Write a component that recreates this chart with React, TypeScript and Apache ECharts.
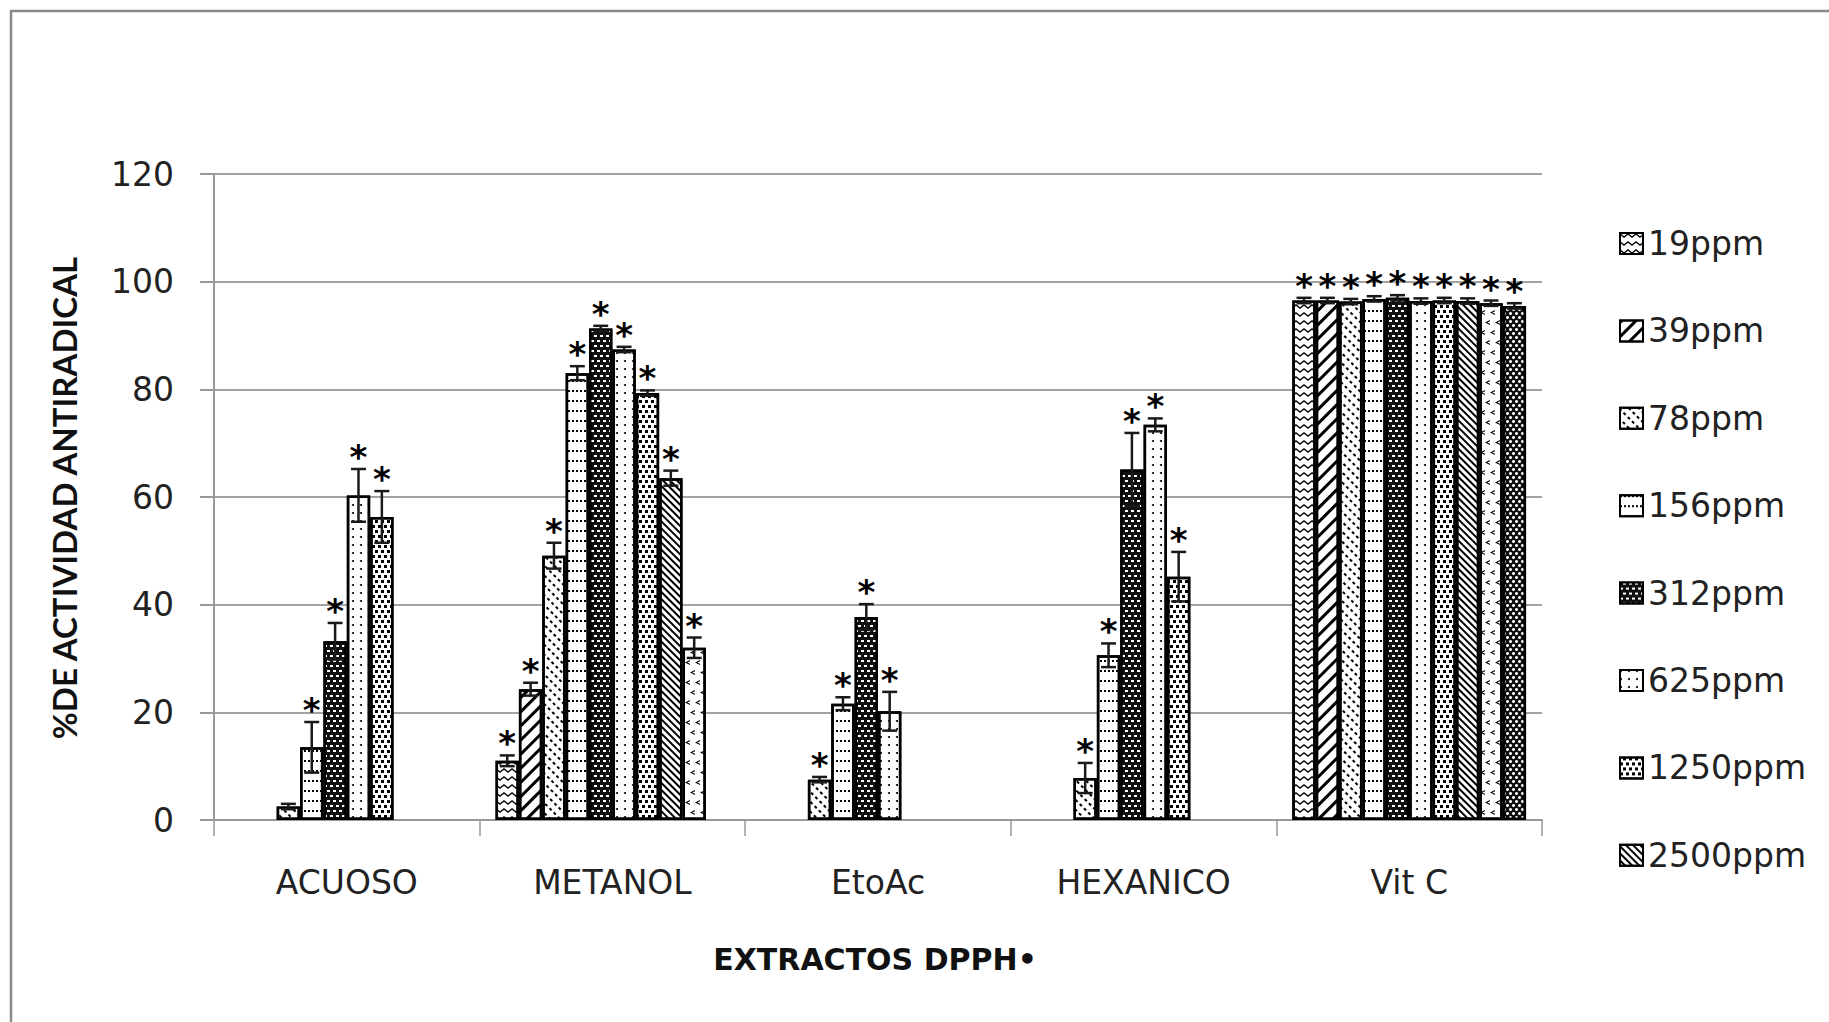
import React, { useEffect, useRef } from 'react';
import * as echarts from 'echarts';

const categories = ['ACUOSO', 'METANOL', 'EtoAc', 'HEXANICO', 'Vit C'];
const seriesNames = ['19ppm', '39ppm', '78ppm', '156ppm', '312ppm', '625ppm', '1250ppm', '2500ppm', '5000ppm', '10000ppm'];
const legendNames = ['19ppm', '39ppm', '78ppm', '156ppm', '312ppm', '625ppm', '1250ppm', '2500ppm'];
const yTicks = [0, 20, 40, 60, 80, 100, 120];

// mean values per category [ACUOSO, METANOL, EtoAc, HEXANICO, Vit C]
const v19 = [null, 11, null, null, 96.5];
const v39 = [null, 24.3, null, null, 96.5];
const v78 = [2.5, 49.1, 7.5, 7.8, 96.3];
const v156 = [13.5, 83, 21.6, 30.6, 96.8];
const v312 = [33.2, 91.3, 37.7, 65.1, 97];
const v625 = [60.3, 87.4, 20.2, 73.4, 96.4];
const v1250 = [56.3, 79.3, null, 45.2, 96.5];
const v2500 = [null, 63.5, null, null, 96.4];
const v5000 = [null, 32, null, null, 96];
const v10000 = [null, null, null, null, 95.5];

// error (SD) values
const e19 = [null, 1, null, null, 0.5];
const e39 = [null, 1.2, null, null, 0.5];
const e78 = [0.5, 2.4, 0.5, 2.8, 0.5];
const e156 = [4.7, 1.3, 1.2, 2.2, 0.5];
const e312 = [3.4, 0.5, 2.4, 6.8, 0.5];
const e625 = [4.9, 0.5, 3.6, 1.2, 0.5];
const e1250 = [4.8, 0.5, null, 4.6, 0.5];
const e2500 = [null, 1.4, null, null, 0.5];
const e5000 = [null, 1.9, null, null, 0.5];
const e10000 = [null, null, null, null, 0.5];

// significance marks (*)
const s19 = [0, 1, 0, 0, 1];
const s39 = [0, 1, 0, 0, 1];
const s78 = [0, 1, 1, 1, 1];
const s156 = [1, 1, 1, 1, 1];
const s312 = [1, 1, 1, 1, 1];
const s625 = [1, 1, 1, 1, 1];
const s1250 = [1, 1, 0, 1, 1];
const s2500 = [0, 1, 0, 0, 1];
const s5000 = [0, 1, 0, 0, 1];
const s10000 = [0, 0, 0, 0, 1];

const values = [v19, v39, v78, v156, v312, v625, v1250, v2500, v5000, v10000];
const errors = [e19, e39, e78, e156, e312, e625, e1250, e2500, e5000, e10000];
const sigs = [s19, s39, s78, s156, s312, s625, s1250, s2500, s5000, s10000];

const N = seriesNames.length;
const GAP = 0.12;
const FONT = '"DejaVu Sans", sans-serif';

const fills = ['#fff', '#fff', '#fff', '#fff', '#111', '#fff', '#fff', '#fff', '#fff', '#111'];
const decals: any[] = [
  { symbol: 'path://M0,0 L4,3 L8,0 L8,1.6 L4,4.6 L0,1.6 Z', symbolKeepAspect: false, color: '#000', dashArrayX: [8, 0], dashArrayY: [4.6, 2.6] },
  { symbol: 'rect', color: '#000', dashArrayX: [1, 0], dashArrayY: [3, 7], rotation: -Math.PI / 4 },
  { symbol: 'rect', color: '#000', dashArrayX: [3, 3], dashArrayY: [1.3, 5], rotation: Math.PI / 4 },
  { symbol: 'rect', color: '#000', dashArrayX: [1.5, 1.5], dashArrayY: [1.3, 8] },
  { symbol: 'rect', color: '#fff', dashArrayX: [[3, 3], [0, 3, 3, 0]], dashArrayY: [1.5, 2.5] },
  { symbol: 'circle', color: '#000', dashArrayX: [1.8, 6], dashArrayY: [1.8, 6] },
  { symbol: 'rect', color: '#000', dashArrayX: [[3, 3], [0, 3, 3, 0]], dashArrayY: [3, 2] },
  { symbol: 'rect', color: '#000', dashArrayX: [1, 0], dashArrayY: [1.4, 2.4], rotation: Math.PI / 4 },
  { symbol: 'path://M4,0 L0,2.5 L4,5 L4,3.8 L1.8,2.5 L4,1.2 Z', symbolKeepAspect: false, color: '#000', dashArrayX: [[5, 5], [0, 5, 5, 0]], dashArrayY: [5, 5] },
  { symbol: 'circle', color: '#fff', dashArrayX: [[3, 3], [0, 3, 3, 0]], dashArrayY: [3, 1] },
];

export default function App() {
  const ref = useRef<HTMLDivElement>(null);
  useEffect(() => {
    if (!ref.current) return;
    const chart = echarts.init(ref.current, null, { renderer: 'svg' });

    const errData: any[] = [];
    values.forEach((vals, s) =>
      vals.forEach((v, c) => {
        if (v != null) errData.push([c, s, v, errors[s][c] ?? 0, sigs[s][c]]);
      })
    );

    const barSeries = seriesNames.map((name, i) => ({
      type: 'bar',
      name,
      data: values[i],
      barGap: '0%',
      barCategoryGap: (GAP * 100) + '%',
      itemStyle: { color: fills[i], borderColor: '#000', borderWidth: 2.5, decal: decals[i] },
      emphasis: { disabled: true },
    }));

    const errSeries = {
      type: 'custom',
      name: 'err',
      data: errData,
      encode: { x: 0, y: 2 },
      z: 10,
      silent: true,
      renderItem: (params: any, api: any) => {
        const c = api.value(0);
        const s = api.value(1);
        const v = api.value(2);
        const e = api.value(3);
        const sig = api.value(4);
        const band = api.size([1, 0])[0];
        const bw = (band * (1 - GAP)) / N;
        const cx = api.coord([c, 0])[0] + (s - (N - 1) / 2) * bw;
        const yTop = api.coord([c, v + e])[1];
        const yBot = api.coord([c, v - e])[1];
        const cap = bw * 0.32;
        const st = { stroke: '#1a1a1a', lineWidth: 2.5 };
        const children: any[] = [
          { type: 'line', shape: { x1: cx, y1: yTop, x2: cx, y2: yBot }, style: st },
          { type: 'line', shape: { x1: cx - cap, y1: yTop, x2: cx + cap, y2: yTop }, style: st },
          { type: 'line', shape: { x1: cx - cap, y1: yBot, x2: cx + cap, y2: yBot }, style: st },
        ];
        if (sig) {
          children.push({
            type: 'text',
            x: cx,
            y: yTop - 12,
            style: { text: '*', font: 'bold 34px "DejaVu Sans"', fill: '#000', align: 'center', verticalAlign: 'middle' },
          });
        }
        return { type: 'group', children };
      },
    };

    chart.setOption({
      animation: false,
      backgroundColor: '#fff',
      textStyle: { fontFamily: FONT },
      grid: { left: 214, top: 174, width: 1328, height: 646, containLabel: false },
      legend: {
        data: legendNames,
        orient: 'vertical',
        left: 1614,
        top: 222,
        icon: 'rect',
        itemWidth: 23,
        itemHeight: 21,
        itemGap: 54.4,
        selectedMode: false,
        textStyle: { fontFamily: FONT, fontSize: 33, color: '#222' },
      },
      xAxis: {
        type: 'category',
        data: categories,
        axisLine: { lineStyle: { color: '#999', width: 2 } },
        axisTick: { show: true, length: 16, lineStyle: { color: '#999', width: 1.5 } },
        axisLabel: { fontFamily: FONT, fontSize: 33, color: '#222', margin: 46 },
      },
      yAxis: {
        type: 'value',
        min: yTicks[0],
        max: yTicks[yTicks.length - 1],
        interval: 20,
        axisLine: { show: true, lineStyle: { color: '#999', width: 2 } },
        axisTick: { show: true, length: 14, lineStyle: { color: '#999', width: 2 } },
        splitLine: { lineStyle: { color: '#a3a3a3', width: 2 } },
        axisLabel: { fontFamily: FONT, fontSize: 33, color: '#222', margin: 40 },
      },
      graphic: [
        {
          type: 'rect',
          shape: { x: 11, y: 11, width: 1900, height: 1100 },
          style: { fill: 'none', stroke: '#8a8a8a', lineWidth: 2.5 },
          silent: true,
        },
        {
          type: 'text',
          x: 64,
          y: 498,
          rotation: Math.PI / 2,
          style: {
            text: '%DE ACTIVIDAD ANTIRADICAL',
            font: 'bold 33px Lato',
            fill: '#111',
            align: 'center',
            verticalAlign: 'middle',
          },
        },
        {
          type: 'text',
          x: 875,
          y: 959,
          style: {
            text: 'EXTRACTOS DPPH•',
            font: 'bold 30px "DejaVu Sans"',
            fill: '#111',
            align: 'center',
            verticalAlign: 'middle',
          },
        },
      ],
      series: [...barSeries, errSeries],
    });
    return () => chart.dispose();
  }, []);
  return <div ref={ref} style={{ position: 'absolute', left: 0, top: 0, width: 1829, height: 1022 }} />;
}
